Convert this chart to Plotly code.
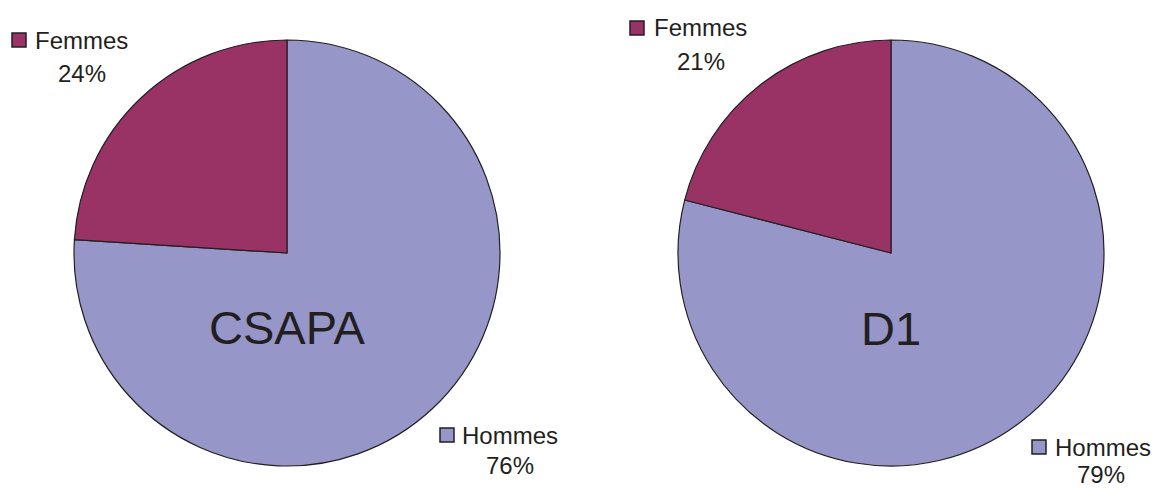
import plotly.graph_objects as go

W, H = 1155, 489

# Data
categories = ["Hommes", "Femmes"]
csapa_values = [76, 24]
d1_values = [79, 21]
pie_titles = ["CSAPA", "D1"]
colors = {"Hommes": "#9696C8", "Femmes": "#993366"}
text_color = "#231F20"
FONT = "Liberation Sans, Arial, sans-serif"

def px(x):
    return x / W

def py(y):
    return 1 - y / H

fig = go.Figure()

pie_domains = [
    dict(x=[px(74), px(500)], y=[py(466), py(40)]),
    dict(x=[px(678), px(1104)], y=[py(466), py(40)]),
]

for vals, dom in zip([csapa_values, d1_values], pie_domains):
    fig.add_trace(go.Pie(
        labels=categories,
        values=vals,
        sort=False,
        direction="clockwise",
        rotation=0,
        domain=dom,
        textinfo="none",
        hoverinfo="label+percent",
        marker=dict(colors=[colors[c] for c in categories],
                    line=dict(color=text_color, width=1.2)),
        showlegend=False,
    ))

annotations = []
shapes = []

# Central titles
for title, cx, cy in [(pie_titles[0], 287, 327), (pie_titles[1], 891, 328)]:
    annotations.append(dict(text=title, x=px(cx), y=py(cy), xref="paper", yref="paper",
                            showarrow=False, xanchor="center", yanchor="middle",
                            font=dict(family=FONT, size=47, color=text_color)))

# Label blocks: (category, value, square_x0, square_y0, text_x, text_y, pct_cx, pct_cy)
label_specs = [
    ("Femmes", csapa_values[1], 12, 33, 34, 40, 82, 73),
    ("Hommes", csapa_values[0], 440, 428, 461, 435, 510, 465),
    ("Femmes", d1_values[1], 630, 21, 653, 28, 701, 61),
    ("Hommes", d1_values[0], 1032, 440, 1054, 447, 1101, 474),
]
for cat, val, sx, sy, tx, ty, pcx, pcy in label_specs:
    shapes.append(dict(type="rect", xref="paper", yref="paper",
                       x0=px(sx), x1=px(sx + 14), y0=py(sy), y1=py(sy + 14),
                       fillcolor=colors[cat], line=dict(color=text_color, width=1.5)))
    annotations.append(dict(text=cat, x=px(tx), y=py(ty), xref="paper", yref="paper",
                            showarrow=False, xanchor="left", yanchor="middle", borderpad=0,
                            font=dict(family=FONT, size=24, color=text_color)))
    annotations.append(dict(text=f"{val}%", x=px(pcx), y=py(pcy), xref="paper", yref="paper",
                            showarrow=False, xanchor="center", yanchor="middle", borderpad=0,
                            font=dict(family=FONT, size=24, color=text_color)))

fig.update_layout(
    width=W, height=H,
    margin=dict(l=0, r=0, t=0, b=0),
    paper_bgcolor="white",
    plot_bgcolor="white",
    annotations=annotations,
    shapes=shapes,
)

fig.write_html("out.html",
               config={"displayModeBar": False},
               post_script="document.body.style.margin='0';document.body.style.overflow='hidden';")
